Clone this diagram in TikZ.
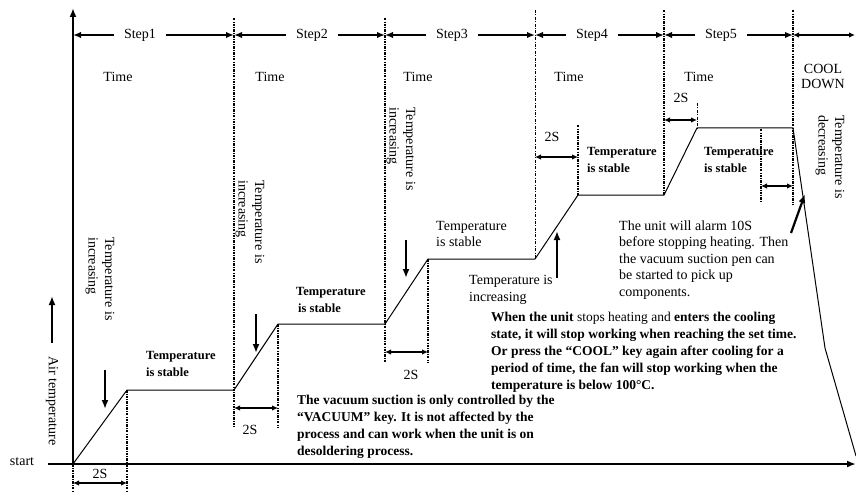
\documentclass[tikz,border=0pt]{standalone}
\usepackage{fontspec}
\setmainfont{Liberation Serif}
\usetikzlibrary{arrows.meta}
\tikzset{
  every node/.style={inner sep=0pt, font=\fontsize{14}{16.5}\selectfont},
  lbl/.style ={align=left},
  blbl/.style={align=left, font=\fontsize{12.5}{16.5}\selectfont\bfseries},
  para/.style={align=left, font=\fontsize{13.5}{17}\selectfont\bfseries},
  vlbl/.style={rotate=-90, align=left, anchor=west},
  stl/.style ={inner xsep=10pt},
  ax/.style  ={line width=1.9pt, -{Latex[length=9pt,width=7pt]}},
  stp/.style ={line width=1.9pt, -{Latex[length=8pt,width=6.5pt]}},
  prof/.style={line width=1pt, line join=round},
  gd/.style  ={line width=1.3pt, dash pattern=on 2.5pt off 1.2pt on 0.8pt off 1.2pt},
  gdt/.style ={line width=0.7pt, dash pattern=on 3pt off 1.5pt on 0.8pt off 1.5pt},
  dur/.style ={line width=1.9pt, {Latex[length=6pt,width=5.5pt]}-{Latex[length=6pt,width=5.5pt]}},
  ptr/.style ={line width=2.2pt, -{Latex[length=9pt,width=7pt]}},
}
\begin{document}
\begin{tikzpicture}[x=1pt,y=-1pt]
\useasboundingbox (0,0) rectangle (856,492);

% corners of the temperature profile
\coordinate (o)   at (73,464);
\coordinate (p1)  at (127,390);
\coordinate (p2)  at (234,390);
\coordinate (p3)  at (278,324);
\coordinate (p4)  at (385,324);
\coordinate (p5)  at (428,259);
\coordinate (p6)  at (535,259);
\coordinate (p7)  at (578,195);
\coordinate (p8)  at (664,195);
\coordinate (p9)  at (697,128);
\coordinate (p10) at (793,128);
\coordinate (p11) at (825,348);
\coordinate (p12) at (856,456);

% step boundaries on the arrow row
\foreach \x [count=\i from 0] in {73,234,385,535,664,793,855}
  \coordinate (t\i) at (\x,35);

% guide lines
\draw[gd]  (73,464) -- (73,492);
\draw[gd]  (p1) -- (127,492);
\draw[gd]  (234,18) -- (234,427);
\draw[gd]  (p3) -- (278,427);
\draw[gd]  (385,18) -- (385,362);
\draw[gd]  (p5) -- (428,362);
\draw[gdt] (535,10) -- (p6);
\draw[gd]  (578,125) -- (p7);
\draw[gd]  (664,10) -- (p8);
\draw[gdt] (697,103) -- (p9);
\draw[gd]  (761,129) -- (761,202);
\draw[gd]  (793,10) -- (793,205);

% axes
\draw[ax] (48,464) -- (856,464);
\draw[ax] (o) -- (73,8);
\node (start) at (22,462) {start};

% profile
\draw[prof] (o) -- (p1) -- (p2) -- (p3) -- (p4) -- (p5) -- (p6) -- (p7)
  -- (p8) -- (p9) -- (p10) -- (p11) -- (p12);

% steps
\foreach \n/\x/\a/\b in {1/140/0/1, 2/312/1/2, 3/452/2/3, 4/592/3/4, 5/721/4/5} {
  \node[stl] (s\n) at (\x,35) {Step\n};
  \draw[stp] (s\n) -- (t\a);
  \draw[stp] (s\n) -- (t\b);
}
\draw[dur] (t5) -- (t6);

\foreach \x [count=\i] in {118,270,418,569,699}
  \node (time\i) at (\x,77) {Time};
\node[align=center, font=\fontsize{14}{15}\selectfont] (cool) at (823,76) {COOL\\DOWN};

% 2S spans
\draw[dur] (73,483) -- (127,483);
\node (d1) at (100,474) {2S};
\draw[dur] (234,408) -- (278,408);
\node (d2) at (250,430) {2S};
\draw[dur] (385,352) -- (428,352);
\node (d3) at (411,375) {2S};
\draw[dur] (535,157) -- (578,157);
\node (d4) at (552,137) {2S};
\draw[dur] (664,120) -- (697,120);
\node (d5) at (681,98) {2S};
\draw[dur] (761,186) -- (793,186);

% pointers
\draw[ptr] (105,370) -- (105,409);
\draw[ptr] (256,314) -- (256,353);
\draw[ptr] (406,240) -- (406,278);
\draw[ptr] (557,278) -- (557,231);
\draw[ptr] (791,233) -- (805,194);
\draw[ptr] (52,343) -- (52,296);

% labels
\node[rotate=-90] (airt) at (52,401) {Air temperature};
\node[vlbl] (inc1) at (100,237) {Temperature is\\increasing};
\node[vlbl] (inc2) at (250,180) {Temperature is\\increasing};
\node[vlbl] (inc3) at (401,107) {Temperature is\\increasing};
\node[vlbl] (dec)  at (830,115) {Temperature is\\decreasing};

\node[blbl, anchor=west] (st1) at (146,364) {Temperature\\is stable};
\node[blbl, anchor=west] (st2) at (296,300) {Temperature\\\hspace{2pt}is stable};
\node[lbl,  anchor=west] (st3) at (436,234) {Temperature\\is stable};
\node[blbl, anchor=west] (st4) at (587,160) {Temperature\\is stable};
\node[blbl, anchor=west] (st5) at (704,160) {Temperature\\is stable};
\node[lbl,  anchor=west] (inc4) at (469,290) {Temperature is\\increasing};

\node[lbl, anchor=west] (alarm) at (619,260)
  {The unit will alarm 10S\\before stopping heating. Then\\the vacuum suction pen can\\be started to pick up\\components.};
\node[para, anchor=west] (cooling) at (491,352)
  {When the unit \textmd{stops heating and} enters the cooling\\
   state, it will stop working when reaching the set time.\\
   Or press the “COOL” key again after cooling for a\\
   period of time, the fan will stop working when the\\
   temperature is below 100°C.};
\node[para, anchor=west] (vacuum) at (297,427)
  {The vacuum suction is only controlled by the\\
   “VACUUM” key. It is not affected by the\\
   process and can work when the unit is on\\
   desoldering process.};

\end{tikzpicture}
\end{document}
